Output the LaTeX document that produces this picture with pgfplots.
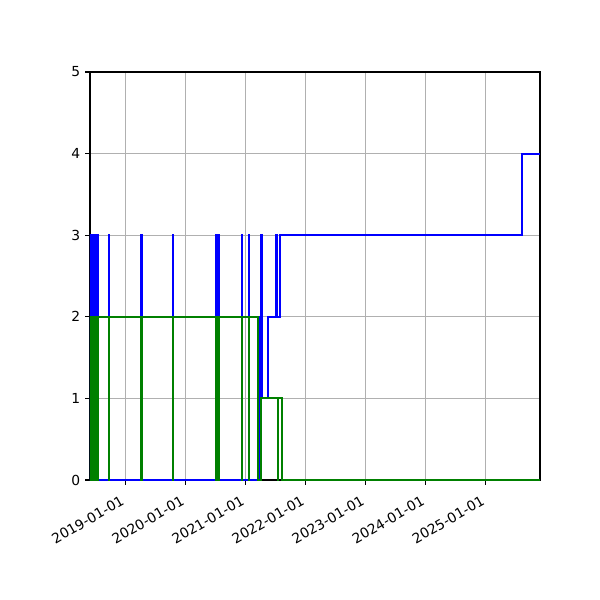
\documentclass[border=0pt]{standalone}
\usepackage{fontspec}
\setmainfont{DejaVu Sans}
\usepackage{pgfplots}
\pgfplotsset{compat=1.18}
\definecolor{mplgreen}{rgb}{0,0.5,0}
\definecolor{gridgray}{HTML}{B0B0B0}
\begin{document}
\begin{tikzpicture}[x=1pt,y=1pt]
\path[use as bounding box] (0,0) rectangle (433.62,433.62);
\begin{axis}[
  at={(65.04pt,86.72pt)}, anchor=south west,
  scale only axis, width=325.2pt, height=294.86pt,
  xmin=2018.413, xmax=2025.905,
  ymin=0, ymax=5,
  ytick={0,1,2,3,4,5},
  xtick={2019,2020,2021,2022,2023,2024,2025},
  xticklabels={2019-01-01,2020-01-01,2021-01-01,2022-01-01,2023-01-01,2024-01-01,2025-01-01},
  xticklabel style={rotate=30, anchor=north east, xshift=-3.5pt, yshift=-1pt},
  tick align=outside, tick pos=left,
  major tick length=3.5pt,
  every tick/.style={black, line width=0.8pt},
  axis line style={line width=0.8pt},
  grid=major,
  grid style={gridgray, line width=0.8pt},
  tick label style={font=\fontsize{10}{12}\selectfont},
  /pgf/number format/assume math mode=true,
  const plot,
  every axis plot/.append style={line width=1.5pt, line join=miter},
]
% blue series
\addplot[blue] coordinates {
(2018.415,0)
(2018.417,3)(2018.419,0)(2018.425,3)(2018.427,0)(2018.433,3)(2018.435,0)
(2018.441,3)(2018.443,0)(2018.449,3)(2018.451,0)(2018.457,3)(2018.459,0)
(2018.465,3)(2018.467,0)(2018.473,3)(2018.475,0)(2018.481,3)(2018.483,0)
(2018.489,3)(2018.491,0)(2018.497,3)(2018.499,0)(2018.505,3)(2018.507,0)
(2018.513,3)(2018.515,0)(2018.521,3)(2018.523,0)(2018.529,3)(2018.531,0)
(2018.537,3)(2018.539,0)(2018.545,3)(2018.547,0)
(2018.730,3)(2018.733,0)
(2019.267,3)(2019.270,0)
(2019.793,3)(2019.796,0)
(2020.517,3)(2020.520,0)
(2020.560,3)(2020.563,0)
(2020.943,3)(2020.946,0)
(2021.060,3)(2021.063,0)
(2021.215,2)(2021.218,0)
(2021.267,3)(2021.277,1)
(2021.383,2)
(2021.517,3)(2021.520,2)
(2021.572,3)
(2025.610,4)
(2025.905,4)
};
% green series
\addplot[mplgreen] coordinates {
(2018.415,0)
(2018.417,2)(2018.421,0)(2018.425,2)(2018.429,0)(2018.433,2)(2018.437,0)
(2018.441,2)(2018.445,0)(2018.449,2)(2018.453,0)(2018.457,2)(2018.461,0)
(2018.465,2)(2018.469,0)(2018.473,2)(2018.477,0)(2018.481,2)(2018.485,0)
(2018.489,2)(2018.493,0)(2018.497,2)(2018.501,0)(2018.505,2)(2018.509,0)
(2018.513,2)(2018.517,0)(2018.521,2)(2018.525,0)(2018.529,2)(2018.533,0)
(2018.537,2)(2018.541,0)(2018.547,2)
(2018.730,0)(2018.733,2)
(2019.267,0)(2019.270,2)
(2019.793,0)(2019.796,2)
(2020.517,0)(2020.520,2)
(2020.560,0)(2020.563,2)
(2020.943,0)(2020.946,2)
(2021.060,0)(2021.063,2)
(2021.210,0)
(2021.260,1)
(2021.538,0)(2021.541,1)
(2021.605,0)
(2025.905,0)
};
\end{axis}
\end{tikzpicture}
\end{document}
